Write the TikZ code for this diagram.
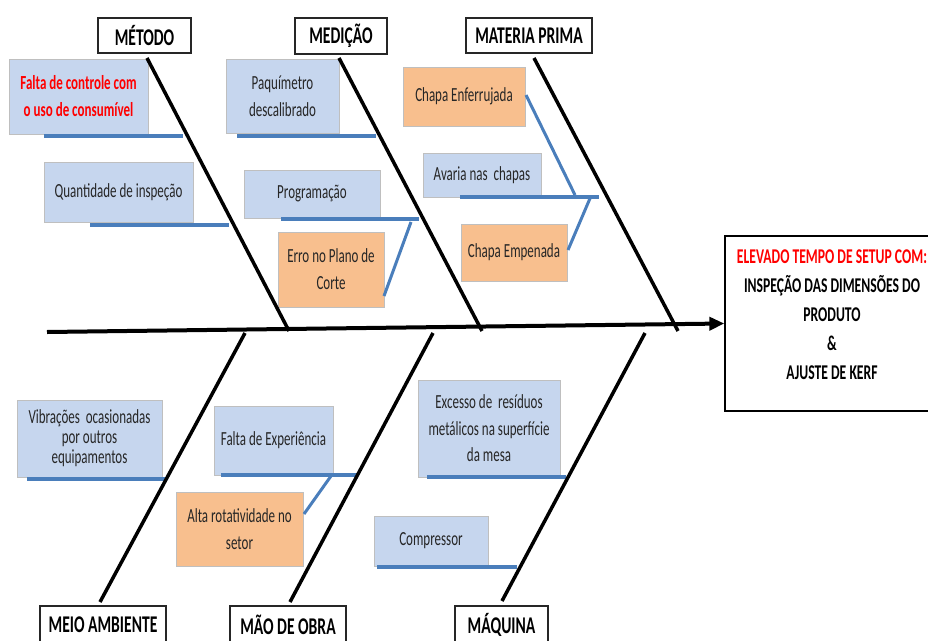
\documentclass[tikz,border=0pt]{standalone}
\usepackage{fontspec}
\setmainfont{Carlito}[FakeStretch=0.65]
\usetikzlibrary{arrows.meta}
\definecolor{boxblue}{HTML}{C6D6EE}
\definecolor{boxorange}{HTML}{F8BF8E}
\definecolor{lineblue}{HTML}{4A7EBB}
\definecolor{boxgray}{HTML}{BFBFBF}
\definecolor{txtgray}{HTML}{262626}
\definecolor{redtxt}{HTML}{FF0000}
\begin{document}
\begin{tikzpicture}[x=1pt,y=-1pt,
  cause/.style={draw=boxgray, line width=1pt, fill=boxblue, align=center, inner sep=0pt, text=txtgray, font=\fontsize{20}{27}\selectfont},
  causeo/.style={cause, fill=boxorange},
  header/.style={draw=black!85, line width=1.5pt, fill=white, inner sep=0pt, text=black, font=\fontsize{24}{28}\selectfont\bfseries},
  bone/.style={line width=3.5pt, black},
  uline/.style={line width=4pt, lineblue},
  diag/.style={line width=3pt, lineblue},
  effbox/.style={draw=black, line width=1.3pt, fill=white, inner sep=0pt},
  efftext/.style={align=center, inner sep=0pt, font=\fontsize{21}{29}\selectfont\bfseries, text=black}
]
\fill[white] (0,0) rectangle (928,640);
\useasboundingbox (0,0) rectangle (928,640);

% effect
\node[effbox, minimum width=214, minimum height=175] (eff) at (832,323.5) {};
\node[efftext] (efft) at (832,315) {\textcolor{redtxt}{ELEVADO TEMPO DE SETUP COM:}\\INSPEÇÃO DAS DIMENSÕES DO\\PRODUTO\\\&\\AJUSTE DE KERF};

% headers
\node[header, minimum width=93, minimum height=35] (met) at (144.5,35.5) {MÉTODO};
\node[header, minimum width=92, minimum height=36] (med) at (341,36) {MEDIÇÃO};
\node[header, minimum width=126, minimum height=35] (mp) at (529,35.5) {MATERIA PRIMA};
\node[header, minimum width=126, minimum height=38] (ma) at (103,625) {MEIO AMBIENTE};
\node[header, minimum width=116, minimum height=38] (mo) at (288,625) {MÃO DE OBRA};
\node[header, minimum width=93, minimum height=38] (mq) at (501.5,625) {MÁQUINA};

% spine
\coordinate (tail) at (47,332);
\draw[line width=4pt, -{Triangle[length=15pt,width=13pt]}] (tail) -- (eff.west);

% bone coordinates
\coordinate (metb) at (147,58);  \coordinate (j1) at (289,331);
\coordinate (medb) at (339,58);  \coordinate (j2) at (482,331);
\coordinate (mpb) at (534,58);   \coordinate (j3) at (678,331);
\coordinate (mab) at (100,602);  \coordinate (j4) at (245,333);
\coordinate (mob) at (290,602);  \coordinate (j5) at (433,333);
\coordinate (mqb) at (502,601);  \coordinate (j6) at (645,333);

% cause boxes
\node[cause, minimum width=139, minimum height=75, font=\fontsize{20}{27}\selectfont\bfseries, text=redtxt] (fc) at (78.5,96.5) {Falta de controle com\\o uso de consumível};
\node[cause, minimum width=149, minimum height=60] (qi) at (118.5,192) {Quantidade de inspeção};
\node[cause, minimum width=113, minimum height=74] (pq) at (282.5,96) {Paquímetro\\descalibrado};
\node[cause, minimum width=136, minimum height=48] (pg) at (312,194) {Programação};
\node[causeo, minimum width=106, minimum height=75] (ep) at (331,269.5) {Erro no Plano de\\Corte};
\node[causeo, minimum width=122, minimum height=59] (ce) at (464,96.5) {Chapa Enferrujada};
\node[cause, minimum width=118, minimum height=44] (av) at (482,175) {Avaria nas\ \ chapas};
\node[causeo, minimum width=106, minimum height=57] (cp) at (514,252.5) {Chapa Empenada};
\node[cause, minimum width=145, minimum height=77, font=\fontsize{20}{20}\selectfont] (vb) at (89.5,438.5) {Vibrações\ \ ocasionadas\\por outros\\equipamentos};
\node[cause, minimum width=119, minimum height=69] (fe) at (273.5,440.5) {Falta de Experiência};
\node[causeo, minimum width=127, minimum height=74] (ar) at (239.5,529) {Alta rotatividade no\\setor};
\node[cause, minimum width=142, minimum height=97, font=\fontsize{20}{26.5}\selectfont] (ex) at (489,428.5) {Excesso de\ \ resíduos\\metálicos na superfície\\da mesa};
\node[cause, minimum width=114, minimum height=50] (cm) at (431,541) {Compressor};

% underlines
\draw[uline] (44,136) -- (183,136);
\draw[uline] (90,225) -- (229,225);
\draw[uline] (237,136) -- (376,136);
\coordinate (pgl) at (281,219); \coordinate (pgr) at (419,219);
\draw[uline] (pgl) -- (pgr);
\coordinate (avl) at (460,197); \coordinate (avr) at (599,197);
\draw[uline] (avl) -- (avr);
\draw[uline] (27,479) -- (166,479);
\coordinate (fel) at (221,475); \coordinate (fer) at (358,475);
\draw[uline] (fel) -- (fer);
\draw[uline] (427,477) -- (566,477);
\draw[uline] (377,567) -- (517,567);

% diagonal connectors
\coordinate (d1a) at (384,296); \coordinate (d1b) at (411,222);
\draw[diag] (d1a) -- (d1b);
\coordinate (d2a) at (526,95); \coordinate (d2b) at (575,195);
\draw[diag] (d2a) -- (d2b);
\coordinate (d3a) at (568,250); \coordinate (d3b) at (591,196);
\draw[diag] (d3a) -- (d3b);
\coordinate (d4a) at (304,514); \coordinate (d4b) at (331,476);
\draw[diag] (d4a) -- (d4b);

% bones
\draw[bone] (metb) -- (j1);
\draw[bone] (medb) -- (j2);
\draw[bone] (mpb) -- (j3);
\draw[bone] (mab) -- (j4);
\draw[bone] (mob) -- (j5);
\draw[bone] (mqb) -- (j6);
\end{tikzpicture}
\end{document}
